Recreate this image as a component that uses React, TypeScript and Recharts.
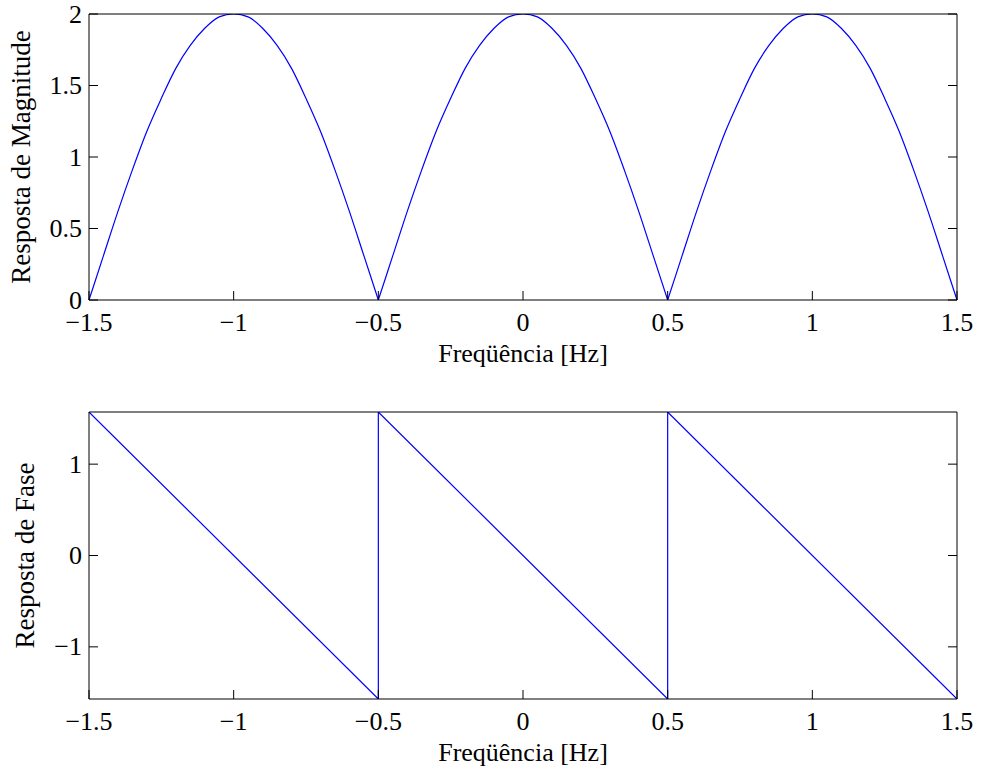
import { LineChart, Line, XAxis, YAxis, Label } from 'recharts';

const FONT = '"Liberation Serif", "Times New Roman", serif';
const FONT_SIZE = 26;
const TITLE_SIZE = 27;
const TICK_LEN = 9;
const BLUE = '#0000ff';

// frequency axis
const freqTicks = [-1.5, -1, -0.5, 0, 0.5, 1, 1.5];

// magnitude response |H(f)|
const freqMag = [
  -1.5, -1.45, -1.4, -1.35, -1.3, -1.25, -1.2, -1.15, -1.1, -1.05,
  -1, -0.95, -0.9, -0.85, -0.8, -0.75, -0.7, -0.65, -0.6, -0.55,
  -0.5, -0.45, -0.4, -0.35, -0.3, -0.25, -0.2, -0.15, -0.1, -0.05,
  0, 0.05, 0.1, 0.15, 0.2, 0.25, 0.3, 0.35, 0.4, 0.45,
  0.5, 0.55, 0.6, 0.65, 0.7, 0.75, 0.8, 0.85, 0.9, 0.95,
  1, 1.05, 1.1, 1.15, 1.2, 1.25, 1.3, 1.35, 1.4, 1.45, 1.5,
];
const magnitude = [
  0, 0.31, 0.62, 0.91, 1.18, 1.41, 1.62, 1.78, 1.9, 1.98,
  2, 1.98, 1.9, 1.78, 1.62, 1.41, 1.18, 0.91, 0.62, 0.31,
  0, 0.31, 0.62, 0.91, 1.18, 1.41, 1.62, 1.78, 1.9, 1.98,
  2, 1.98, 1.9, 1.78, 1.62, 1.41, 1.18, 0.91, 0.62, 0.31,
  0, 0.31, 0.62, 0.91, 1.18, 1.41, 1.62, 1.78, 1.9, 1.98,
  2, 1.98, 1.9, 1.78, 1.62, 1.41, 1.18, 0.91, 0.62, 0.31, 0,
];
const magTicks = [0, 0.5, 1, 1.5, 2];
// each lobe runs between two nulls
const lobeBounds = [
  [0, 20],
  [20, 40],
  [40, 60],
];

// phase response (wrapped)
const freqPhase = [-1.5, -0.5, -0.5, 0.5, 0.5, 1.5];
const phase = [1.5708, -1.5708, 1.5708, -1.5708, 1.5708, -1.5708];
const phaseTicks = [-1, 0, 1];
const phaseLimit = 1.5708;

type Pt = { f: number; v: number };

const magData: Pt[] = freqMag.map((f, i) => ({ f, v: magnitude[i] }));
const magLobes: Pt[][] = lobeBounds.map(([a, b]) => magData.slice(a, b + 1));
const phaseData: Pt[] = freqPhase.map((f, i) => ({ f, v: phase[i] }));

const fmt = (v: number) => (v < 0 ? '\u2212' + String(-v) : String(v));

const textProps = { fontFamily: FONT, fontSize: FONT_SIZE, fill: '#000' };

function BottomTick({ x, y, payload }: any) {
  return (
    <g>
      <line x1={x} y1={y} x2={x} y2={y - TICK_LEN} stroke="#000" />
      <text x={x} y={y + 31} textAnchor="middle" {...textProps}>
        {fmt(payload.value)}
      </text>
    </g>
  );
}

function TopTick({ x, y }: any) {
  return <line x1={x} y1={y} x2={x} y2={y + TICK_LEN} stroke="#000" />;
}

function LeftTick({ x, y, payload }: any) {
  return (
    <g>
      <line x1={x} y1={y} x2={x + TICK_LEN} y2={y} stroke="#000" />
      <text x={x - 7} y={y} dy="0.33em" textAnchor="end" {...textProps}>
        {fmt(payload.value)}
      </text>
    </g>
  );
}

function RightTick({ x, y }: any) {
  return <line x1={x} y1={y} x2={x - TICK_LEN} y2={y} stroke="#000" />;
}

function YTitle({ viewBox, text, baseX }: any) {
  const cy = viewBox.y + viewBox.height / 2;
  return (
    <text
      x={baseX}
      y={cy}
      textAnchor="middle"
      transform={`rotate(-90 ${baseX} ${cy})`}
      {...textProps}
      fontSize={TITLE_SIZE}
    >
      {text}
    </text>
  );
}

function XTitle({ viewBox, text }: any) {
  const cx = viewBox.x + viewBox.width / 2;
  return (
    <text x={cx} y={viewBox.y + 62} textAnchor="middle" {...textProps}>
      {text}
    </text>
  );
}

interface PanelProps {
  series: Pt[][];
  curve: 'linear' | 'monotone';
  height: number;
  topPad: number;
  bottomPad: number;
  yDomain: [number, number];
  yTicks: number[];
  yTitle: string;
  yTitleX: number;
}

function Panel({ series, curve, height, topPad, bottomPad, yDomain, yTicks, yTitle, yTitleX }: PanelProps) {
  return (
    <LineChart width={981} height={height} margin={{ top: 0, right: 0, bottom: 0, left: 0 }}>
      <XAxis
        dataKey="f"
        type="number"
        domain={[-1.5, 1.5]}
        ticks={freqTicks}
        interval={0}
        height={bottomPad}
        tickSize={0}
        tickMargin={0}
        tick={<BottomTick />}
        axisLine={{ stroke: '#000' }}
        allowDuplicatedCategory={false}
      >
        <Label content={(p: any) => <XTitle {...p} text="Freqüência [Hz]" />} />
      </XAxis>
      <XAxis
        xAxisId="top"
        orientation="top"
        dataKey="f"
        type="number"
        domain={[-1.5, 1.5]}
        ticks={freqTicks}
        interval={0}
        height={topPad}
        tickSize={0}
        tickMargin={0}
        tick={<TopTick />}
        axisLine={{ stroke: '#000' }}
      />
      <YAxis
        type="number"
        domain={yDomain}
        ticks={yTicks}
        interval={0}
        width={89}
        tickSize={0}
        tickMargin={0}
        tick={<LeftTick />}
        axisLine={{ stroke: '#000' }}
        allowDataOverflow
      >
        <Label content={(p: any) => <YTitle {...p} text={yTitle} baseX={yTitleX} />} />
      </YAxis>
      <YAxis
        yAxisId="right"
        orientation="right"
        type="number"
        domain={yDomain}
        ticks={yTicks}
        interval={0}
        width={24}
        tickSize={0}
        tickMargin={0}
        tick={<RightTick />}
        axisLine={{ stroke: '#000' }}
        allowDataOverflow
      />
      {series.map((d, i) => (
        <Line
          key={i}
          data={d}
          type={curve}
          dataKey="v"
          stroke={BLUE}
          strokeWidth={1.2}
          dot={false}
          activeDot={false}
          isAnimationActive={false}
        />
      ))}
    </LineChart>
  );
}

export default function App() {
  return (
    <div style={{ position: 'absolute', left: 0, top: 0, width: 981, height: 771, background: '#fff' }}>
      <Panel
        series={magLobes}
        curve="monotone"
        height={385}
        topPad={14}
        bottomPad={85}
        yDomain={[0, 2]}
        yTicks={magTicks}
        yTitle="Resposta de Magnitude"
        yTitleX={30}
      />
      <Panel
        series={[phaseData]}
        curve="linear"
        height={386}
        topPad={27}
        bottomPad={72}
        yDomain={[-phaseLimit, phaseLimit]}
        yTicks={phaseTicks}
        yTitle="Resposta de Fase"
        yTitleX={34}
      />
    </div>
  );
}
